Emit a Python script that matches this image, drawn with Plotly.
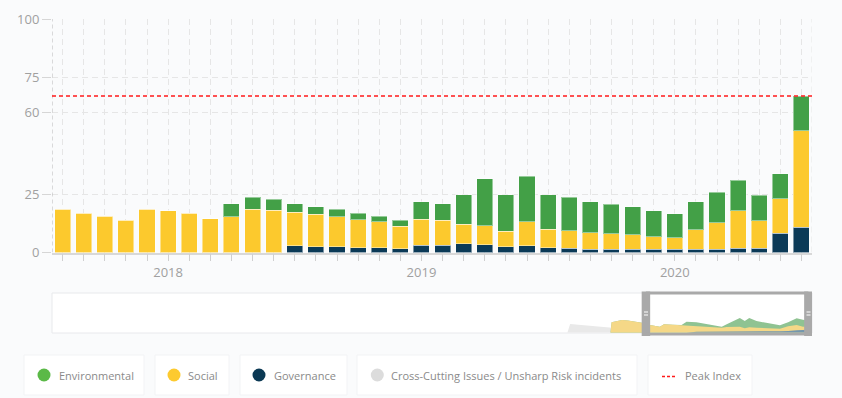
import plotly.graph_objects as go

# ---------------- data ----------------
months = ["2017-08", "2017-09", "2017-10", "2017-11", "2017-12",
          "2018-01", "2018-02", "2018-03", "2018-04", "2018-05", "2018-06",
          "2018-07", "2018-08", "2018-09", "2018-10", "2018-11", "2018-12",
          "2019-01", "2019-02", "2019-03", "2019-04", "2019-05", "2019-06",
          "2019-07", "2019-08", "2019-09", "2019-10", "2019-11", "2019-12",
          "2020-01", "2020-02", "2020-03", "2020-04", "2020-05", "2020-06",
          "2020-07"]

governance = [0, 0, 0, 0, 0, 0, 0, 0, 0, 0, 0,
              2.8, 2.5, 2.4, 2.1, 2.1, 1.6, 3.2, 3.1, 3.8, 3.4, 2.5, 2.9,
              2.1, 1.8, 1.5, 1.5, 1.5, 1.5, 1.5, 1.5, 1.5, 1.9, 1.9, 8.2, 10.9]
social = [18.6, 16.8, 15.6, 13.9, 18.6, 17.8, 16.8, 14.5, 15.3, 18.6, 18.2,
          14.4, 13.8, 12.9, 11.9, 11.1, 9.6, 11.1, 10.8, 8.4, 8.1, 6.7, 10.2,
          7.8, 7.6, 7.0, 6.6, 6.1, 5.3, 4.8, 8.3, 11.3, 15.9, 11.7, 14.8, 41.3]
environmental = [0, 0, 0, 0, 0, 0, 0, 0, 5.5, 5.0, 4.6,
                 3.6, 3.3, 3.2, 2.8, 2.4, 2.7, 7.5, 6.9, 12.6, 20.0, 15.6, 19.5,
                 14.9, 14.2, 13.3, 12.5, 11.9, 11.0, 10.3, 12.0, 13.0, 13.1, 11.0, 10.7, 14.7]
peak_index = 67

y_ticks = [0, 25, 60, 75, 100]

# navigator (overview) series, in month-index units relative to 2017-08
nav_x = [-8.35, -8.1, -5.8, -4.5, -1.4, 0.4, 2.6, 3.5, 5.5, 7.4, 8.5, 10.7, 13.5,
         16.3, 17.4, 19.6, 20.3, 21.4, 22.4, 24.0, 26.5, 29.2, 31.0, 32.9, 34.3, 35.5]
nav_gov_top = [0, 0, 0, 0, 0, 0, 0, 0, 0, 0, 0, 1.0, 1.2,
               1.5, 1.5, 1.5, 1.5, 1.5, 1.5, 1.5, 1.5, 1.5, 1.6, 2.5, 3.0, 3.0]
nav_social_top = [0, 10.4, 12.7, 12.3, 10.0, 7.7, 6.0, 8.4, 8.0, 7.4, 7.7, 6.4, 5.6,
                  5.0, 5.7, 6.4, 6.0, 4.4, 5.5, 5.0, 4.6, 4.0, 6.4, 7.7, 6.0, 6.5]
nav_total_top = [0, 10.4, 12.7, 12.3, 10.0, 7.7, 6.0, 8.4, 8.0, 7.6, 11.0, 10.4, 8.2,
                 6.0, 8.4, 13.0, 14.7, 11.7, 14.7, 11.7, 9.8, 7.4, 10.4, 14.4, 13.0, 12.0]
nav_cross_x = [-17.9, -17.3, -8.0, -8.0]
nav_cross = [0, 8.7, 5.0, 0]
nav_range = [-132.1, 36.3]
window = [-0.5, 35.5]

# ---------------- style ----------------
W, H = 842, 398
BG = "#fafbfc"
FONT = "Open Sans"
C_ENV, C_SOC, C_GOV, C_CROSS = "#43a047", "#fcc92d", "#0b3a57", "#dcdcdc"


def px_x(p):
    return p / W


def px_y(p):
    return 1 - p / H


x = list(range(len(months)))
ticktext = [m[:4] if m.endswith("-01") else "" for m in months]

fig = go.Figure()
bar_line = dict(color="rgba(255,255,255,0.45)", width=1)
fig.add_trace(go.Bar(x=x, y=governance, name="Governance", marker=dict(color=C_GOV, line=bar_line),
                     showlegend=False, xaxis="x", yaxis="y"))
fig.add_trace(go.Bar(x=x, y=social, name="Social", marker=dict(color=C_SOC, line=bar_line),
                     showlegend=False, xaxis="x", yaxis="y"))
fig.add_trace(go.Bar(x=x, y=environmental, name="Environmental", marker=dict(color=C_ENV, line=bar_line),
                     showlegend=False, xaxis="x", yaxis="y"))

# navigator areas
fig.add_trace(go.Scatter(x=nav_cross_x, y=nav_cross, fill="tozeroy", mode="lines",
                         line=dict(width=0, color="#e9e9e9"), fillcolor="#e9e9e9",
                         showlegend=False, hoverinfo="skip", xaxis="x2", yaxis="y2"))
fig.add_trace(go.Scatter(x=nav_x, y=nav_total_top, fill="tozeroy", mode="lines",
                         line=dict(width=0, color="#8fc392"), fillcolor="#8fc392",
                         showlegend=False, hoverinfo="skip", xaxis="x2", yaxis="y2"))
fig.add_trace(go.Scatter(x=nav_x, y=nav_social_top, fill="tozeroy", mode="lines",
                         line=dict(width=0, color="#f5d887"), fillcolor="#f5d887",
                         showlegend=False, hoverinfo="skip", xaxis="x2", yaxis="y2"))
fig.add_trace(go.Scatter(x=nav_x, y=nav_gov_top, fill="tozeroy", mode="lines",
                         line=dict(width=0, color="#7497ae"), fillcolor="#7497ae",
                         showlegend=False, hoverinfo="skip", xaxis="x2", yaxis="y2"))

shapes = []
# dashed y-axis line
shapes.append(dict(type="line", xref="x", yref="y", x0=-0.5, x1=-0.5, y0=0, y1=100,
                   line=dict(color="#b8b8b8", width=1, dash="4px,3px"), layer="above"))
# right plot edge dashed
shapes.append(dict(type="line", xref="x", yref="y", x0=35.5, x1=35.5, y0=0, y1=100,
                   line=dict(color="#e6e6e6", width=1, dash="6px,4px"), layer="below"))
# peak index
shapes.append(dict(type="line", xref="x domain", yref="y", x0=0, x1=1, y0=peak_index, y1=peak_index,
                   line=dict(color="#ff1a1a", width=1.5, dash="4px,3px"), layer="above"))

# navigator box
shapes.append(dict(type="rect", xref="paper", yref="paper", x0=px_x(52), x1=px_x(812),
                   y0=px_y(333), y1=px_y(293), fillcolor="#ffffff",
                   line=dict(color="#e8e9ec", width=1), layer="below"))
# navigator window frame
FR = "#a9a9a9"
for xc in window:
    shapes.append(dict(type="line", xref="x2", yref="paper", x0=xc, x1=xc,
                       y0=px_y(336), y1=px_y(291.5), line=dict(color=FR, width=8.5), layer="above"))
for yy in (293, 334.2):
    shapes.append(dict(type="line", xref="x2", yref="paper", x0=window[0], x1=window[1],
                       y0=px_y(yy), y1=px_y(yy), line=dict(color=FR, width=2.8), layer="above"))

# legend boxes
legend_items = [
    (24, 144, "circle", "#5bb947", 44, "Environmental", 56.5),
    (155, 229, "circle", "#fdca2f", 174, "Social", 185.5),
    (240, 347, "circle", "#0b3954", 259, "Governance", 271.5),
    (357, 637, "circle", C_CROSS, 377.3, "Cross-Cutting Issues / Unsharp Risk incidents", 389),
    (648, 752, "dash", "#ff1a1a", 668, "Peak Index", 683),
]
annotations = []
for (bx0, bx1, kind, col, mx, label, tx) in legend_items:
    shapes.append(dict(type="rect", xref="paper", yref="paper", x0=px_x(bx0), x1=px_x(bx1),
                       y0=px_y(395), y1=px_y(355), fillcolor="#ffffff",
                       line=dict(color="#f2f3f5", width=1), layer="below"))
    if kind == "circle":
        shapes.append(dict(type="circle", xref="paper", yref="paper",
                           x0=px_x(mx - 6.5), x1=px_x(mx + 6.5), y0=px_y(381.5), y1=px_y(368.5),
                           fillcolor=col, line=dict(width=0)))
    else:
        shapes.append(dict(type="line", xref="paper", yref="paper", x0=px_x(662), x1=px_x(675.5),
                           y0=px_y(376.5), y1=px_y(376.5),
                           line=dict(color=col, width=1.3, dash="3px,2px")))
    annotations.append(dict(text=label, xref="paper", yref="paper", x=px_x(tx), y=px_y(375),
                            xanchor="left", yanchor="middle", showarrow=False,
                            font=dict(family=FONT, size=11, color="#8a8a8a")))

# navigator handle grips
for xc_px in (646, 808.5):
    for yy in (312, 315):
        shapes.append(dict(type="line", xref="paper", yref="paper", x0=px_x(xc_px - 2), x1=px_x(xc_px + 2),
                           y0=px_y(yy), y1=px_y(yy), line=dict(color="#ffffff", width=1), layer="above"))

fig.update_layout(
    width=W, height=H,
    margin=dict(l=0, r=0, t=0, b=0, autoexpand=False),
    paper_bgcolor=BG, plot_bgcolor="rgba(0,0,0,0)",
    barmode="stack", bargap=0.24,
    font=dict(family=FONT, color="#a0a0a0", size=13),
    xaxis=dict(domain=[px_x(52), px_x(812)], range=[-0.5, 35.5], tickmode="array",
               tickvals=x, ticktext=ticktext, ticks="outside", ticklen=7, tickcolor="#cfcfcf",
               showgrid=True, gridcolor="#e6e6e6", griddash="6px,4px", gridwidth=1,
               showline=True, linecolor="#d8d8d8", linewidth=1.5, zeroline=False, automargin=False,
               tickfont=dict(family=FONT, size=13, color="#a0a0a0"), anchor="y", fixedrange=True),
    yaxis=dict(domain=[px_y(252.5), px_y(19)], range=[0, 100], tickmode="array", tickvals=y_ticks,
               ticks="outside", ticklen=9, tickcolor="#d6d6d6", showgrid=True, gridcolor="#e6e6e6",
               griddash="6px,4px", zeroline=False, showline=False, automargin=False,
               tickfont=dict(family=FONT, size=13, color="#a0a0a0"), anchor="x", fixedrange=True),
    xaxis2=dict(domain=[px_x(52), px_x(812)], range=nav_range, visible=False, anchor="y2",
                fixedrange=True, automargin=False),
    yaxis2=dict(domain=[px_y(332.7), px_y(293)], range=[0, 39.7], visible=False, anchor="x2",
                fixedrange=True, automargin=False),
    shapes=shapes,
    annotations=annotations,
    showlegend=False,
)

fig.write_html("out.html", config={"displayModeBar": False},
               post_script="document.body.style.margin='0';document.body.style.background='" + BG + "';")
